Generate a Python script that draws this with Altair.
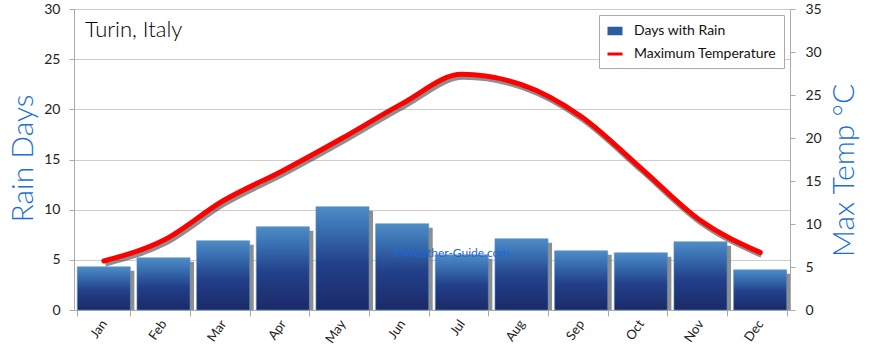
import altair as alt
import pandas as pd

months = ["Jan", "Feb", "Mar", "Apr", "May", "Jun", "Jul", "Aug", "Sep", "Oct", "Nov", "Dec"]
rain_days = [4.3, 5.2, 6.9, 8.3, 10.3, 8.6, 5.5, 7.1, 5.9, 5.7, 6.8, 4.0]
max_temp = [5.7, 8.1, 12.7, 16.2, 20.0, 24.0, 27.4, 26.2, 22.5, 16.5, 10.4, 6.7]
series_names = ["Days with Rain", "Maximum Temperature"]
series_fills = ["#2d5ca0", "transparent"]
series_strokes = ["#2d5ca0", "#ff0000"]
series_shapes = ["M-0.8,-0.36H0.8V0.36H-0.8Z", "stroke"]
rain_ticks = [0, 5, 10, 15, 20, 25, 30]
temp_ticks = [0, 5, 10, 15, 20, 25, 30, 35]
chart_title = "Turin, Italy"
watermark = "\u00a9Weather-Guide.com"

df = pd.DataFrame({"month": months, "rain": rain_days, "temp": max_temp})
legend_df = pd.DataFrame({"series": series_names})

FONT = "Lato"
TITLE_BLUE = "#1a6fd6"
AXIS_GRAY = "#aaaaaa"

x_enc = alt.X(
    "month:N",
    sort=months,
    scale=alt.Scale(paddingInner=0.11, paddingOuter=0.055),
    axis=alt.Axis(
        title=None,
        labelAngle=-55,
        labelAlign="right",
        labelBaseline="middle",
        labelFontSize=13,
        labelPadding=5,
        tickBand="extent",
        tickSize=6,
        tickColor=AXIS_GRAY,
        domainColor=AXIS_GRAY,
        labelColor="#222222",
    ),
)

rain_y = alt.Y(
    "rain:Q",
    scale=alt.Scale(domain=[0, 30], nice=False),
    axis=alt.Axis(
        title="Rain Days",
        values=rain_ticks,
        grid=True,
        gridColor="#cccccc",
        tickColor=AXIS_GRAY,
        domainColor=AXIS_GRAY,
        tickSize=5,
        labelPadding=9,
        labelFontSize=14,
        labelColor="#222222",
        titleFontSize=30,
        titleFontWeight=300,
        titleColor=TITLE_BLUE,
        titleAngle=270,
        titleAlign="center",
        titleBaseline="middle",
        titleX=-51,
        titleY=149,
    ),
)

temp_y = alt.Y(
    "temp:Q",
    scale=alt.Scale(domain=[0, 35], nice=False),
    axis=alt.Axis(
        orient="right",
        title="Max Temp \u00b0C",
        values=temp_ticks,
        grid=False,
        tickColor=AXIS_GRAY,
        domainColor=AXIS_GRAY,
        tickSize=5,
        labelPadding=10,
        labelFontSize=14,
        labelColor="#222222",
        titleFontSize=30,
        titleFontWeight=300,
        titleColor=TITLE_BLUE,
        titleAngle=270,
        titleAlign="center",
        titleBaseline="middle",
        titleX=54,
        titleY=161,
    ),
)

base = alt.Chart(df)

bar_grad = alt.Gradient(
    gradient="linear",
    stops=[
        alt.GradientStop(color="#1b2a68", offset=0),
        alt.GradientStop(color="#22408a", offset=0.45),
        alt.GradientStop(color="#3a72b4", offset=0.8),
        alt.GradientStop(color="#4f8cc4", offset=1),
    ],
    x1=0, x2=0, y1=1, y2=0,
)

shadow_bars = base.mark_bar(color="#7a7a7a", opacity=0.85, xOffset=4, yOffset=4, clip=True).encode(
    x=x_enc, y=rain_y
)
bars = base.mark_bar(color=bar_grad, stroke="#5b93c8", strokeWidth=0.6).encode(x=x_enc, y=rain_y)

title_df = pd.DataFrame({"t": [chart_title]})
title_text = alt.Chart(title_df).mark_text(
    font=FONT, fontSize=22, fontWeight=300, align="left", baseline="middle", color="#000000"
).encode(text="t:N", x=alt.value(11), y=alt.value(21))

wm_df = pd.DataFrame({"t": [watermark]})
wm_text = alt.Chart(wm_df).mark_text(
    font=FONT, fontSize=12, align="left", baseline="middle", color="#1f66d8", opacity=1
).encode(text="t:N", x=alt.value(319), y=alt.value(244))

rain_layer = alt.layer(shadow_bars, bars, wm_text, title_text)

line_shadow = base.mark_line(
    color="#444444", strokeWidth=6, opacity=0.6, xOffset=1.5, yOffset=2.5, interpolate="monotone"
).encode(x=x_enc, y=temp_y)

line = base.mark_line(color="#ff0000", strokeWidth=5, interpolate="monotone", strokeCap="round").encode(
    x=x_enc, y=temp_y
)

temp_layer = alt.layer(line_shadow, line)


def make_legend():
    return alt.Legend(
        title=None,
        orient="top-right",
        offset=6,
        fillColor="white",
        strokeColor="#aaaaaa",
        padding=7,
        rowPadding=5,
        labelFont=FONT,
        labelFontSize=14,
        labelColor="#111111",
        symbolSize=225,
        symbolStrokeWidth=3,
        symbolOpacity=1,
        labelOffset=10,
    )


legend_points = alt.Chart(legend_df).mark_point(opacity=0, size=1).encode(
    x=alt.value(-100),
    y=alt.value(-100),
    fill=alt.Fill("series:N", scale=alt.Scale(domain=series_names, range=series_fills), legend=make_legend()),
    stroke=alt.Stroke("series:N", scale=alt.Scale(domain=series_names, range=series_strokes), legend=make_legend()),
    shape=alt.Shape("series:N", scale=alt.Scale(domain=series_names, range=series_shapes), legend=make_legend()),
)

chart = (
    alt.layer(rain_layer, temp_layer, legend_points)
    .resolve_scale(y="independent")
    .properties(
        width=716,
        height=301,
        autosize=alt.AutoSizeParams(type="none"),
        padding={"left": 74, "top": 9, "right": 80, "bottom": 42},
        background="white",
    )
    .configure(font=FONT)
    .configure_view(stroke=None)
)

chart.save("out.html", embed_options={"renderer": "svg", "actions": False})
